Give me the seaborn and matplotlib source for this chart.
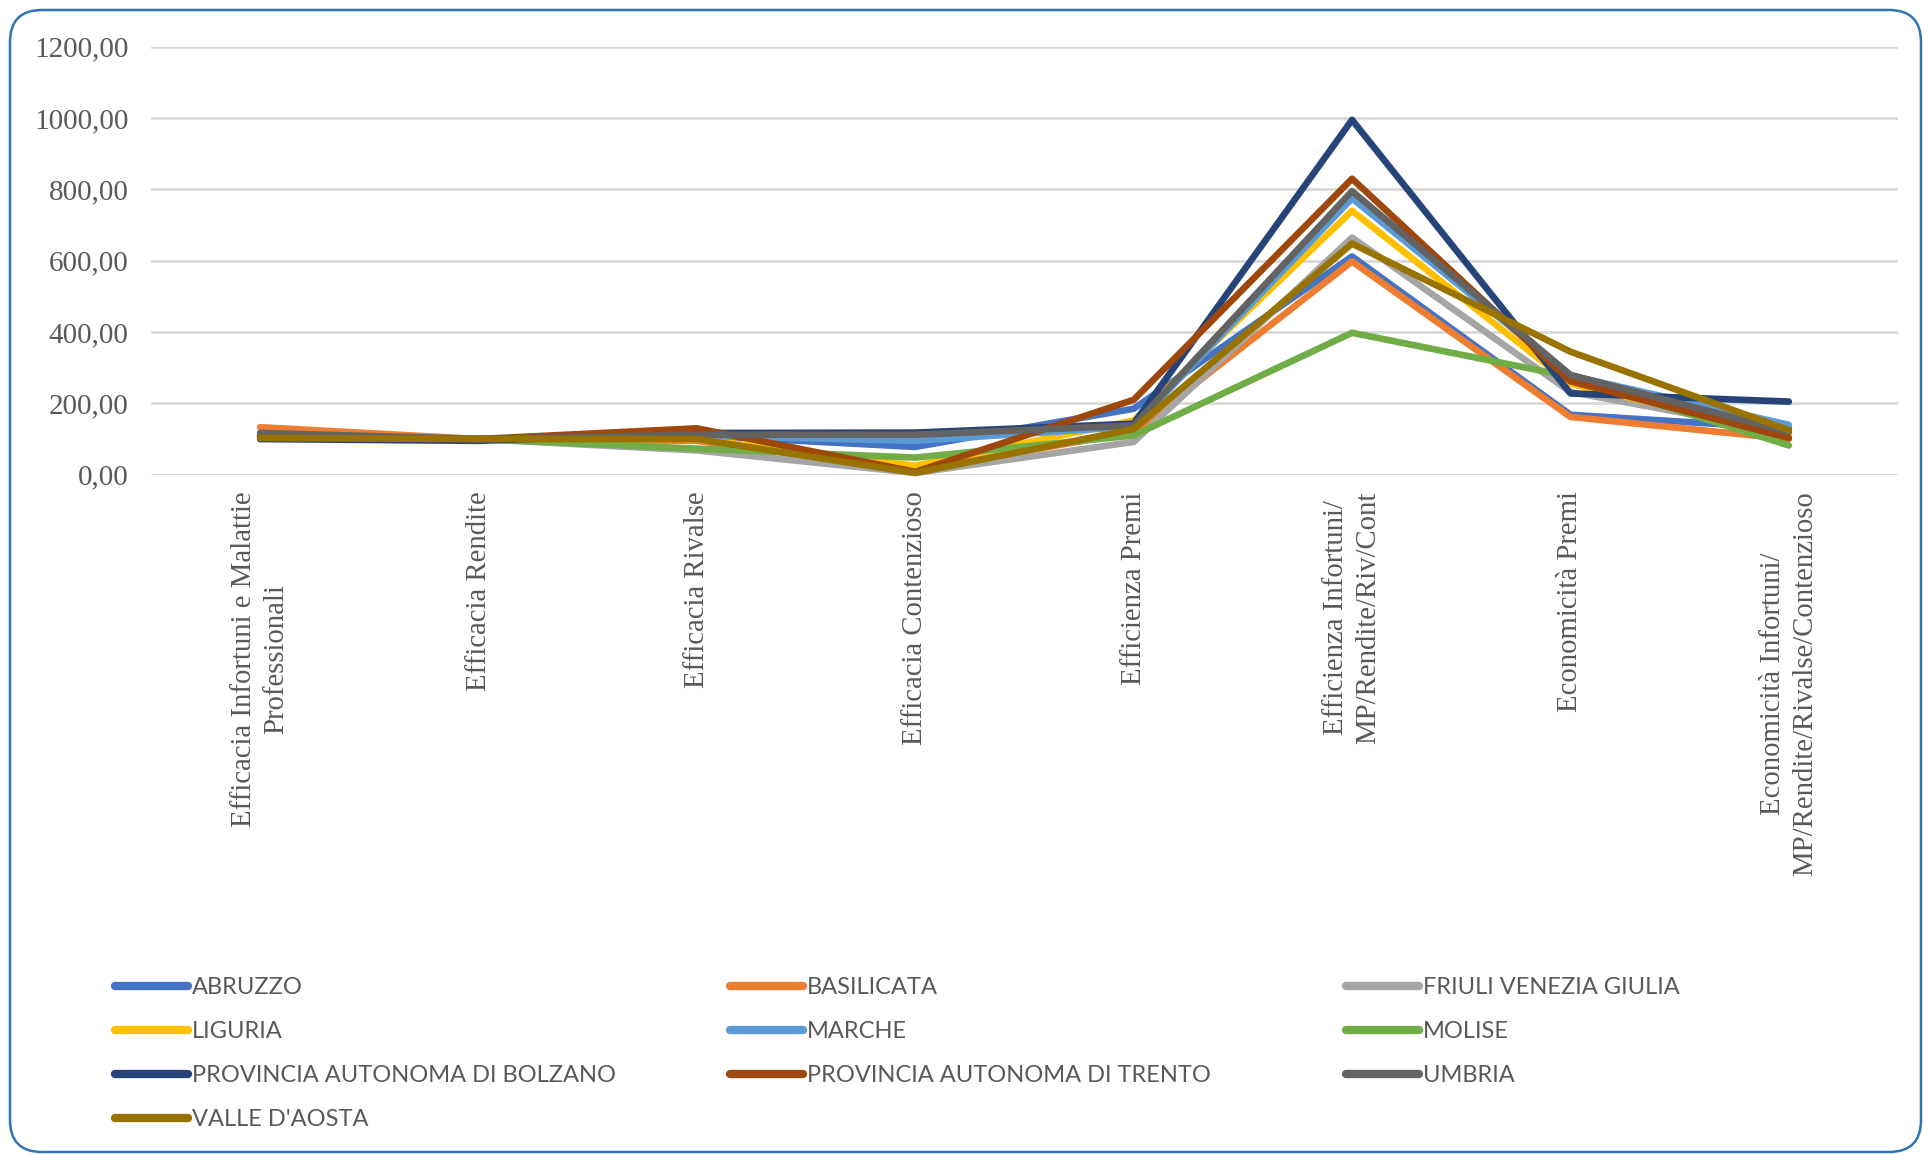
import numpy as np
import pandas as pd
import matplotlib.pyplot as plt
import seaborn as sns
from matplotlib.lines import Line2D
from matplotlib.patches import FancyBboxPatch
from matplotlib.ticker import FuncFormatter

# Indicatori (asse x)
categories = [
    "Efficacia Infortuni e Malattie\nProfessionali",
    "Efficacia Rendite",
    "Efficacia Rivalse",
    "Efficacia Contenzioso",
    "Efficienza Premi",
    "Efficienza Infortuni/\nMP/Rendite/Riv/Cont",
    "Economicità Premi",
    "Economicità Infortuni/\nMP/Rendite/Rivalse/Contenzioso",
]

regions = [
    "ABRUZZO", "BASILICATA", "FRIULI VENEZIA GIULIA",
    "LIGURIA", "MARCHE", "MOLISE",
    "PROVINCIA AUTONOMA DI BOLZANO", "PROVINCIA AUTONOMA DI TRENTO", "UMBRIA",
    "VALLE D'AOSTA",
]

# valori
abruzzo = [110, 100, 110, 78, 185, 612, 168, 130]
basilicata = [133, 100, 95, 12, 120, 598, 162, 100]
friuli = [108, 100, 68, 5, 92, 665, 232, 118]
liguria = [108, 100, 100, 25, 152, 740, 255, 112]
marche = [110, 100, 110, 95, 135, 775, 278, 140]
molise = [105, 100, 73, 48, 110, 398, 275, 82]
bolzano = [100, 95, 117, 118, 143, 995, 228, 205]
trento = [110, 100, 130, 8, 210, 830, 262, 103]
umbria = [117, 100, 112, 112, 138, 795, 280, 120]
valle_aosta = [103, 100, 100, 5, 128, 648, 345, 125]

colors = ["#4472C4", "#ED7D31", "#A5A5A5", "#FFC000", "#5B9BD5",
          "#70AD47", "#264478", "#9E480E", "#636363", "#997300"]

series = [abruzzo, basilicata, friuli, liguria, marche,
          molise, bolzano, trento, umbria, valle_aosta]

rows = []
for reg, vals in zip(regions, series):
    for cat, v in zip(categories, vals):
        rows.append({"Indicatore": cat, "Regione": reg, "Valore": v})
df = pd.DataFrame(rows)
palette = dict(zip(regions, colors))

sns.set_style("white")
fig = plt.figure(figsize=(19.23, 11.55), dpi=100)
ax = fig.add_axes([0.0785, 0.589, 0.9085, 0.3705])

sns.lineplot(data=df, x="Indicatore", y="Valore", hue="Regione",
             hue_order=regions, palette=palette, linewidth=4.8,
             sort=False, errorbar=None, legend=False, ax=ax)
for ln in ax.lines:
    ln.set_clip_on(False)
    ln.set_solid_capstyle("round")

ax.set_xlim(-0.5, 7.5)
ax.set_ylim(0, 1200)
ax.set_yticks(np.arange(0, 1201, 200))
ax.yaxis.set_major_formatter(FuncFormatter(lambda v, p: f"{v:.2f}".replace(".", ",")))
ax.yaxis.grid(True, color="#D9D9D9", linewidth=2)
ax.set_axisbelow(True)
for s in ax.spines.values():
    s.set_visible(False)
ax.set_xlabel("")
ax.set_ylabel("")

ax.tick_params(axis="both", length=0, labelcolor="#595959")
ax.tick_params(axis="y", pad=16)
ax.tick_params(axis="x", pad=12)
for lab in ax.get_yticklabels():
    lab.set_fontfamily("Liberation Serif")
    lab.set_fontsize(21)
ax.set_xticks(range(len(categories)))
ax.set_xticklabels(categories, rotation=90, ha="center", va="top",
                   multialignment="center", fontfamily="Liberation Serif",
                   fontsize=20.7, linespacing=1.3)

# legenda in tre colonne
handles = {r: Line2D([], [], color=c, linewidth=6, solid_capstyle="round")
           for r, c in zip(regions, colors)}
col_x = [115, 730, 1346]
for j, x0 in enumerate(col_x):
    names = regions[j::3]
    leg = fig.legend([handles[n] for n in names], names, loc="upper left",
                     bbox_to_anchor=(x0 / 1923, 0.1541), frameon=False,
                     borderpad=0, borderaxespad=0, handlelength=3.1,
                     handletextpad=0.15, labelspacing=0.98,
                     prop={"family": ["Liberation Sans Narrow", "Lato"], "size": 17})
    for t in leg.get_texts():
        t.set_color("#595959")

# cornice arrotondata
border = FancyBboxPatch((0.10, 0.03), 19.11, 11.42,
                        boxstyle="round,pad=0,rounding_size=0.32",
                        transform=fig.dpi_scale_trans, fill=False,
                        edgecolor="#2E75B6", linewidth=1.8)
fig.add_artist(border)

fig.savefig("out.png", dpi=100)
